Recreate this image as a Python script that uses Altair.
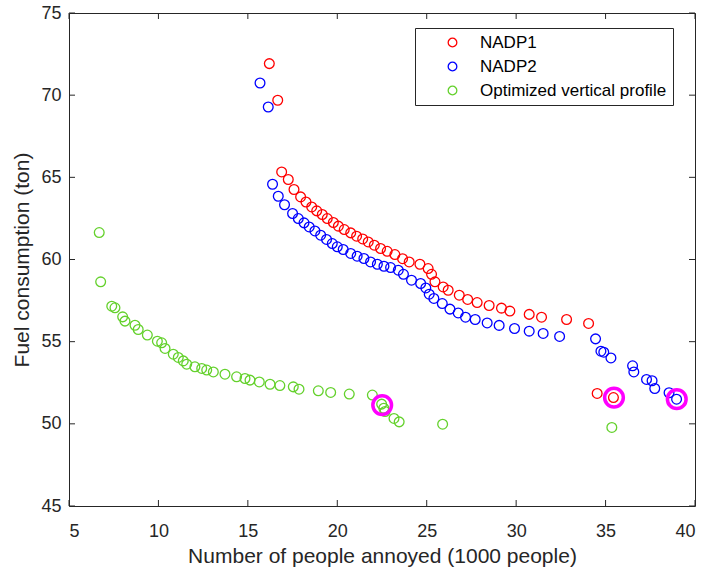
import altair as alt
import pandas as pd

FONT = "Liberation Sans"
INK = "#262626"

series_names = ["NADP1", "NADP2", "Optimized vertical profile"]
series_colors = ["#FF0000", "#0000FF", "#64D12C"]

red_x = [16.2, 16.67, 16.89, 17.26, 17.58, 17.95, 18.25, 18.57, 18.85, 19.16, 19.44, 19.78,
         20.06, 20.39, 20.75, 21.08, 21.42, 21.73, 22.07, 22.42, 22.79, 23.22, 23.65, 24.02,
         24.62, 25.08, 25.27, 25.46, 25.92, 26.2, 26.82, 27.29, 27.82, 28.49, 29.18, 29.65,
         30.73, 31.42, 32.82, 34.05, 34.53, 35.44]
red_y = [71.92, 69.69, 65.33, 64.87, 64.26, 63.81, 63.5, 63.2, 62.96, 62.74, 62.49, 62.25,
         62.03, 61.82, 61.62, 61.42, 61.25, 61.07, 60.87, 60.67, 60.5, 60.3, 60.05, 59.85,
         59.71, 59.45, 59.1, 58.64, 58.33, 58.13, 57.83, 57.57, 57.38, 57.2, 57.04, 56.86,
         56.66, 56.49, 56.35, 56.11, 51.85, 51.6]

blue_x = [15.68, 16.14, 16.38, 16.7, 17.05, 17.5, 17.82, 18.14, 18.43, 18.75, 19.07, 19.4,
          19.72, 20.0, 20.33, 20.75, 21.11, 21.49, 21.86, 22.24, 22.61, 22.98, 23.41, 23.7,
          24.15, 24.66, 24.95, 25.14, 25.4, 25.87, 26.3, 26.76, 27.17, 27.71, 28.38, 29.05,
          29.91, 30.73, 31.51, 32.43, 34.44, 34.74, 34.9, 35.3, 36.51, 36.58, 37.29, 37.6,
          37.75, 38.55, 38.97]
blue_y = [70.74, 69.28, 64.58, 63.85, 63.33, 62.8, 62.49, 62.23, 61.98, 61.74, 61.48, 61.22,
          60.97, 60.77, 60.61, 60.37, 60.2, 60.06, 59.85, 59.71, 59.59, 59.51, 59.35, 59.1,
          58.74, 58.54, 58.27, 57.89, 57.63, 57.32, 56.98, 56.75, 56.49, 56.35, 56.14, 55.99,
          55.8, 55.64, 55.5, 55.32, 55.17, 54.42, 54.36, 54.01, 53.53, 53.16, 52.7, 52.62,
          52.15, 51.89, 51.5]

green_x = [6.69, 6.77, 7.39, 7.57, 8.0, 8.13, 8.69, 8.87, 9.38, 9.94, 10.18, 10.37, 10.83,
           11.11, 11.39, 11.58, 12.04, 12.42, 12.7, 13.07, 13.72, 14.37, 14.84, 15.12, 15.64,
           16.24, 16.79, 17.54, 17.86, 18.94, 19.63, 20.67, 21.96, 22.48, 22.6, 22.67, 23.17,
           23.46, 25.89, 35.35]
green_y = [61.64, 58.64, 57.16, 57.06, 56.51, 56.25, 56.0, 55.74, 55.4, 55.03, 54.93, 54.59,
           54.24, 54.04, 53.83, 53.63, 53.47, 53.37, 53.27, 53.16, 53.02, 52.86, 52.76, 52.66,
           52.55, 52.41, 52.33, 52.25, 52.11, 52.01, 51.91, 51.81, 51.75, 51.2, 50.95, 50.75,
           50.33, 50.12, 49.98, 49.78]

highlight_x = [22.51, 35.47, 38.98]
highlight_y = [51.14, 51.6, 51.5]

x_ticks = [5, 10, 15, 20, 25, 30, 35, 40]
y_ticks = [45, 50, 55, 60, 65, 70, 75]

X_TITLE = "Number of people annoyed (1000 people)"
Y_TITLE = "Fuel consumption (ton)"

rows = []
for name, xs_, ys_ in zip(series_names, [red_x, blue_x, green_x], [red_y, blue_y, green_y]):
    for a, b in zip(xs_, ys_):
        rows.append({"x": a, "y": b, "series": name})
df = pd.DataFrame(rows)
df["idx"] = range(len(df))
hl = pd.DataFrame({"x": highlight_x, "y": highlight_y})
xt = pd.DataFrame({"x": x_ticks})
yt = pd.DataFrame({"y": y_ticks})

xscale = alt.Scale(domain=[5, 40], nice=False, zero=False)
yscale = alt.Scale(domain=[45, 75], nice=False, zero=False)

axis_common = dict(grid=False, domain=False, ticks=False, tickSize=0,
                   labelFont=FONT, labelFontSize=18, labelColor=INK,
                   titleFont=FONT, titleFontSize=21, titleFontWeight="normal", titleColor=INK)

pts = alt.Chart(df).mark_point(shape="circle", filled=False, size=95, strokeWidth=1.3,
                                opacity=1).encode(
    x=alt.X("x:Q", scale=xscale,
            axis=alt.Axis(title=X_TITLE, values=x_ticks, orient="bottom",
                          labelPadding=16, titlePadding=5, **axis_common)),
    y=alt.Y("y:Q", scale=yscale,
            axis=alt.Axis(title=Y_TITLE, values=y_ticks, orient="left",
                          labelPadding=8, titlePadding=8, **axis_common)),
    color=alt.Color("series:N", scale=alt.Scale(domain=series_names, range=series_colors),
                    legend=alt.Legend(title=None, orient="none", legendX=346, legendY=15,
                                      direction="vertical", fillColor="white",
                                      strokeColor=INK, padding=6, cornerRadius=0,
                                      labelFont=FONT, labelFontSize=17, labelColor="black",
                                      labelLimit=0,
                                      symbolType="circle", symbolSize=75,
                                      symbolStrokeWidth=1.3, symbolOffset=23,
                                      labelOffset=19, rowPadding=6)),
    order=alt.Order("idx:Q"),
)

hilite = alt.Chart(hl).mark_point(shape="circle", filled=False, size=350, strokeWidth=3.5,
                                   color="#FF00FF", opacity=1).encode(
    x=alt.X("x:Q", scale=xscale, title=X_TITLE),
    y=alt.Y("y:Q", scale=yscale, title=Y_TITLE),
)

tick_style = dict(color=INK, strokeWidth=1)
tick_bottom = alt.Chart(xt).mark_rule(**tick_style).encode(
    x=alt.X("x:Q", scale=xscale, title=X_TITLE), y=alt.value(493), y2=alt.value(487))
tick_top = alt.Chart(xt).mark_rule(**tick_style).encode(
    x=alt.X("x:Q", scale=xscale, title=X_TITLE), y=alt.value(0), y2=alt.value(6))
tick_left = alt.Chart(yt).mark_rule(**tick_style).encode(
    y=alt.Y("y:Q", scale=yscale, title=Y_TITLE), x=alt.value(0), x2=alt.value(6))
tick_right = alt.Chart(yt).mark_rule(**tick_style).encode(
    y=alt.Y("y:Q", scale=yscale, title=Y_TITLE), x=alt.value(626), x2=alt.value(620))

chart = alt.layer(pts, hilite, tick_bottom, tick_top, tick_left, tick_right).properties(
    width=626, height=493,
    autosize=alt.AutoSizeParams(type="none"),
    padding={"left": 69, "top": 13, "right": 11, "bottom": 64},
    background="white",
).configure_view(stroke=INK, strokeWidth=1)

chart.save("out.html", embed_options={"renderer": "svg", "actions": False})
